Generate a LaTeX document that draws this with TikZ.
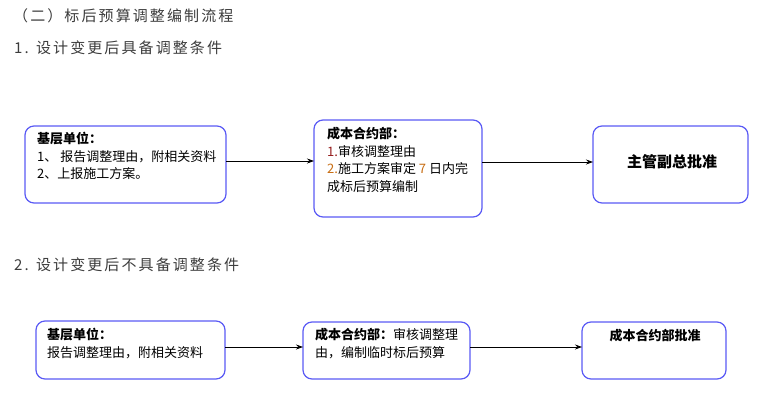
\documentclass[tikz,border=0pt]{standalone}
\usepackage{fontspec}
\setmainfont{Noto Sans CJK SC}
\usetikzlibrary{arrows.meta}
\definecolor{boxblue}{RGB}{90,90,245}
\definecolor{headgray}{RGB}{60,60,60}
\definecolor{numred}{RGB}{150,30,30}
\definecolor{numorange}{RGB}{200,110,20}
\begin{document}
\begin{tikzpicture}[x=1pt,y=-1pt,
  box/.style={draw=boxblue,line width=1.2pt,rounded corners=9pt,fill=white},
  txt/.style={anchor=north west,align=left,inner sep=0pt,font=\fontsize{13}{17.5}\selectfont},
  head/.style={anchor=west,inner sep=0pt,text=headgray,font=\fontsize{15}{17}\selectfont\addfontfeature{LetterSpace=14}},
  conn/.style={-{Stealth[length=7pt,width=5pt]},line width=0.8pt,black}]
\useasboundingbox (0,0) rectangle (760,415);
\node[head] (h0) at (13,16) {（二）标后预算调整编制流程};
\node[head] (h1) at (14,48) {1. 设计变更后具备调整条件};
\node[head] (h2) at (14,265) {2. 设计变更后不具备调整条件};
% row 1
\draw[box] (25,126) rectangle (226,203);
\node[txt] (At) at (37,132) {\textbf{基层单位：}\\1、 报告调整理由，附相关资料\\2、上报施工方案。};
\draw[box] (314,120) rectangle (482,217);
\node[txt] (Bt) at (327,127) {\textbf{成本合约部：}\\\textcolor{numred}{1.}审核调整理由\\\textcolor{numorange}{2.}施工方案审定 \textcolor{numorange}{7} 日内完\\成标后预算编制};
\draw[box] (593,126) rectangle (748,203);
\node[font=\fontsize{15}{17}\selectfont\bfseries] (Ct) at (672,162) {主管副总批准};
\coordinate (Ar) at (226,161);
\coordinate (Bl) at (314,161);
\coordinate (Br) at (482,162);
\coordinate (Cl) at (593,162);
\draw[conn] (Ar) -- (Bl);
\draw[conn] (Br) -- (Cl);
% row 2
\draw[box] (36,321) rectangle (225,379);
\node[txt] (Dt) at (47,328) {\textbf{基层单位：}\\报告调整理由，附相关资料};
\draw[box] (303,322) rectangle (470,379);
\node[txt] (Et) at (315,328) {\textbf{成本合约部：}审核调整理\\由，编制临时标后预算};
\draw[box] (582,322) rectangle (726,379);
\node[font=\fontsize{13}{15}\selectfont\bfseries] (Ft) at (655,336) {成本合约部批准};
\coordinate (Dr) at (225,347);
\coordinate (El) at (303,347);
\coordinate (Er) at (470,347);
\coordinate (Fl) at (582,347);
\draw[conn] (Dr) -- (El);
\draw[conn] (Er) -- (Fl);
\end{tikzpicture}
\end{document}
